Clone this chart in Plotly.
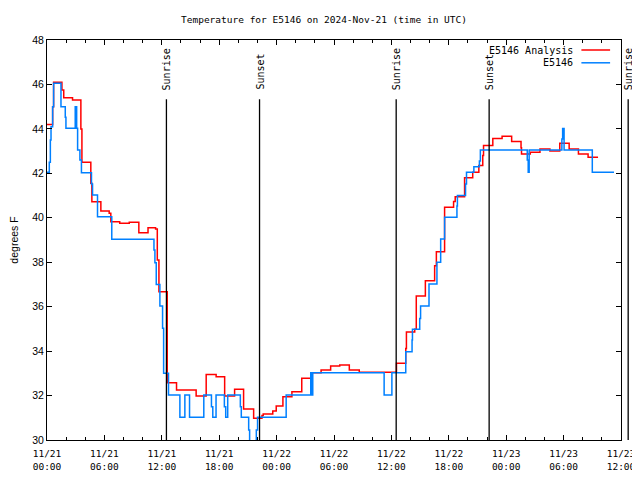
import pandas as pd
import plotly.graph_objects as go

BASE = pd.Timestamp("2024-11-21 00:00")

# E5146 Analysis (red), hours since 11/21 00:00 UTC, step values in degrees F
red_hours = [0.0, 0.59, 0.69, 1.56, 1.75, 2.67, 3.54, 3.65, 4.58, 4.69,
             5.63, 6.5, 6.67, 7.6, 8.6, 9.6, 10.56, 11.35, 11.53, 11.7,
             12.57, 13.54, 15.59, 16.64, 17.68, 18.57, 19.61, 20.55, 21.6, 22.47,
             22.6, 23.6, 23.96, 24.66, 25.6, 26.63, 27.57, 28.65, 29.65, 30.6,
             31.6, 32.64, 36.53, 37.5, 37.57, 38.44, 38.6, 39.55, 40.52, 40.7,
             41.56, 42.5, 42.67, 43.65, 44.5, 45.14, 45.55, 45.63, 46.6, 47.57,
             48.57, 49.55, 49.6, 50.52, 51.53, 52.57, 53.6, 54.58, 55.55, 56.56, 57.6]
red_vals = [44.2, 45.0, 46.1, 45.75, 45.4, 45.3, 44.0, 42.5, 41.55, 40.72,
            40.3, 40.2, 39.82, 39.75, 39.8, 39.33, 39.55, 39.5, 38.1, 36.67,
            32.58, 32.25, 31.98, 32.95, 32.85, 31.98, 32.28, 31.4, 30.98, 31.1,
            31.17, 31.3, 31.53, 31.95, 32.17, 32.78, 33.03, 33.15, 33.33, 33.38,
            33.15, 33.05, 33.45, 34.12, 34.86, 34.98, 36.48, 37.17, 37.84, 38.47,
            40.47, 40.73, 40.95, 41.8, 42.05, 42.35, 42.8, 43.25, 43.57, 43.67,
            43.43, 43.15, 42.87, 42.95, 43.1, 43.0, 43.35, 43.1, 42.87, 42.72, 42.72]

# E5146 observations (blue)
blue_hours = [0.0, 0.24, 0.35, 0.42, 0.59, 0.69, 1.46, 1.91, 1.98, 2.95,
              3.1, 3.2, 3.44, 3.6, 4.65, 4.76, 5.28, 6.77, 11.18, 11.28,
              11.42, 11.8, 12.08, 12.19, 12.7, 13.89, 14.41, 14.9, 16.39, 17.19,
              17.33, 17.67, 18.54, 18.68, 18.89, 20.21, 20.31, 21.08, 21.18, 21.88,
              22.01, 25.0, 27.57, 27.67, 27.78, 35.24, 36.05, 37.5, 38.16, 38.2,
              38.96, 39.05, 39.93, 40.76, 41.15, 41.56, 42.85, 42.9, 43.75, 43.85,
              44.62, 45.2, 45.3, 50.2, 50.3, 50.4, 53.82, 53.9, 54.05, 57.0, 59.27]
blue_vals = [42.05, 42.5, 43.5, 44.1, 45.0, 46.05, 45.0, 44.52, 44.03, 45.0,
             44.03, 43.05, 42.6, 42.03, 41.52, 41.03, 40.05, 39.03, 38.55, 37.98,
             37.0, 36.03, 35.03, 33.0, 32.03, 31.02, 32.03, 31.02, 32.03, 31.5,
             31.02, 32.03, 31.5, 31.02, 32.03, 31.5, 31.02, 30.45, 29.5, 30.45,
             31.02, 32.03, 33.03, 32.03, 33.03, 32.03, 33.03, 33.97, 34.5, 34.98,
             35.47, 36.03, 37.02, 38.0, 39.05, 40.02, 40.53, 41.0, 41.52, 42.05,
             42.3, 42.55, 43.05, 42.6, 42.05, 43.05, 43.55, 44.02, 43.05, 42.05, 42.05]

sun_times = ["2024-11-21 12:29", "2024-11-21 22:13", "2024-11-22 12:30",
             "2024-11-22 22:13", "2024-11-23 12:45"]
sun_labels = ["Sunrise", "Sunset", "Sunrise", "Sunset", "Sunrise"]

series_names = ["E5146 Analysis", "E5146"]
series_colors = ["#ff0000", "#0080ff"]

x_start = BASE
x_end = BASE + pd.Timedelta(hours=60)
y_range = [30, 48]


def to_time(hours):
    return [BASE + pd.Timedelta(hours=h) for h in hours]


def time_to_paper(t):
    # position along the x axis as a fraction of its range (lets marks sit past the frame)
    return (pd.Timestamp(t) - x_start) / (x_end - x_start)


MONO = "DejaVu Sans Mono"

fig = go.Figure()
fig.add_trace(go.Scatter(x=to_time(red_hours), y=red_vals, mode="lines",
                         line=dict(color=series_colors[0], width=1.5, shape="hv"),
                         name=series_names[0], showlegend=False))
fig.add_trace(go.Scatter(x=to_time(blue_hours), y=blue_vals, mode="lines",
                         line=dict(color=series_colors[1], width=1.5, shape="hv"),
                         name=series_names[1], showlegend=False))

shapes = []
annotations = []
for t, lab in zip(sun_times, sun_labels):
    px = time_to_paper(t)
    shapes.append(dict(type="line", xref="paper", yref="paper", x0=px, x1=px,
                       y0=0, y1=0.852, line=dict(color="black", width=1.3)))
    annotations.append(dict(x=px, xref="paper", y=0.87, yref="paper", text=lab,
                            textangle=-90, showarrow=False, xanchor="center",
                            yanchor="bottom", font=dict(family=MONO, size=10, color="black")))

# manual legend (text left of line sample, gnuplot-style)
legend_rows = [0.975, 0.943]
for name, col, yy in zip(series_names, series_colors, legend_rows):
    annotations.append(dict(x=0.92, xref="paper", y=yy, yref="paper", text=name,
                            showarrow=False, xanchor="right", yanchor="middle",
                            font=dict(family=MONO, size=10, color="black")))
    shapes.append(dict(type="line", xref="paper", yref="paper", x0=0.931, x1=0.981,
                       y0=yy, y1=yy, line=dict(color=col, width=1.5)))

fig.update_layout(
    width=632, height=472,
    margin=dict(l=39, r=19, t=32, b=40, autoexpand=False),
    paper_bgcolor="white", plot_bgcolor="white",
    title=dict(text="Temperature for E5146 on 2024-Nov-21 (time in UTC)",
               x=0.5, xanchor="center", y=1 - 12 / 472, yanchor="middle",
               font=dict(family=MONO, size=9.5, color="black")),
    shapes=shapes, annotations=annotations,
    showlegend=False,
)
fig.update_xaxes(type="date", range=[x_start, x_end], tick0=x_start, dtick=6 * 3600 * 1000,
                 tickformat="%m/%d<br>%H:%M", ticks="inside", ticklen=5, tickcolor="black",
                 showline=True, linecolor="black", linewidth=1, mirror="allticks",
                 showgrid=False, zeroline=False, automargin=False, ticklabelstandoff=5,
                 minor=dict(dtick=2 * 3600 * 1000, ticks="inside", ticklen=3, tickcolor="black", showgrid=False),
                 tickfont=dict(family=MONO, size=9.5, color="black"))
fig.update_yaxes(range=y_range, dtick=2, ticks="inside", ticklen=5, tickcolor="black",
                 showline=True, linecolor="black", linewidth=1, mirror="allticks",
                 showgrid=False, zeroline=False, automargin=False,
                 tickfont=dict(family="Liberation Sans", size=10.5, color="black"),
                 title=dict(text="degrees F", standoff=20,
                            font=dict(family="Liberation Sans", size=10.5, color="black")))

fig.write_html("out.html")
